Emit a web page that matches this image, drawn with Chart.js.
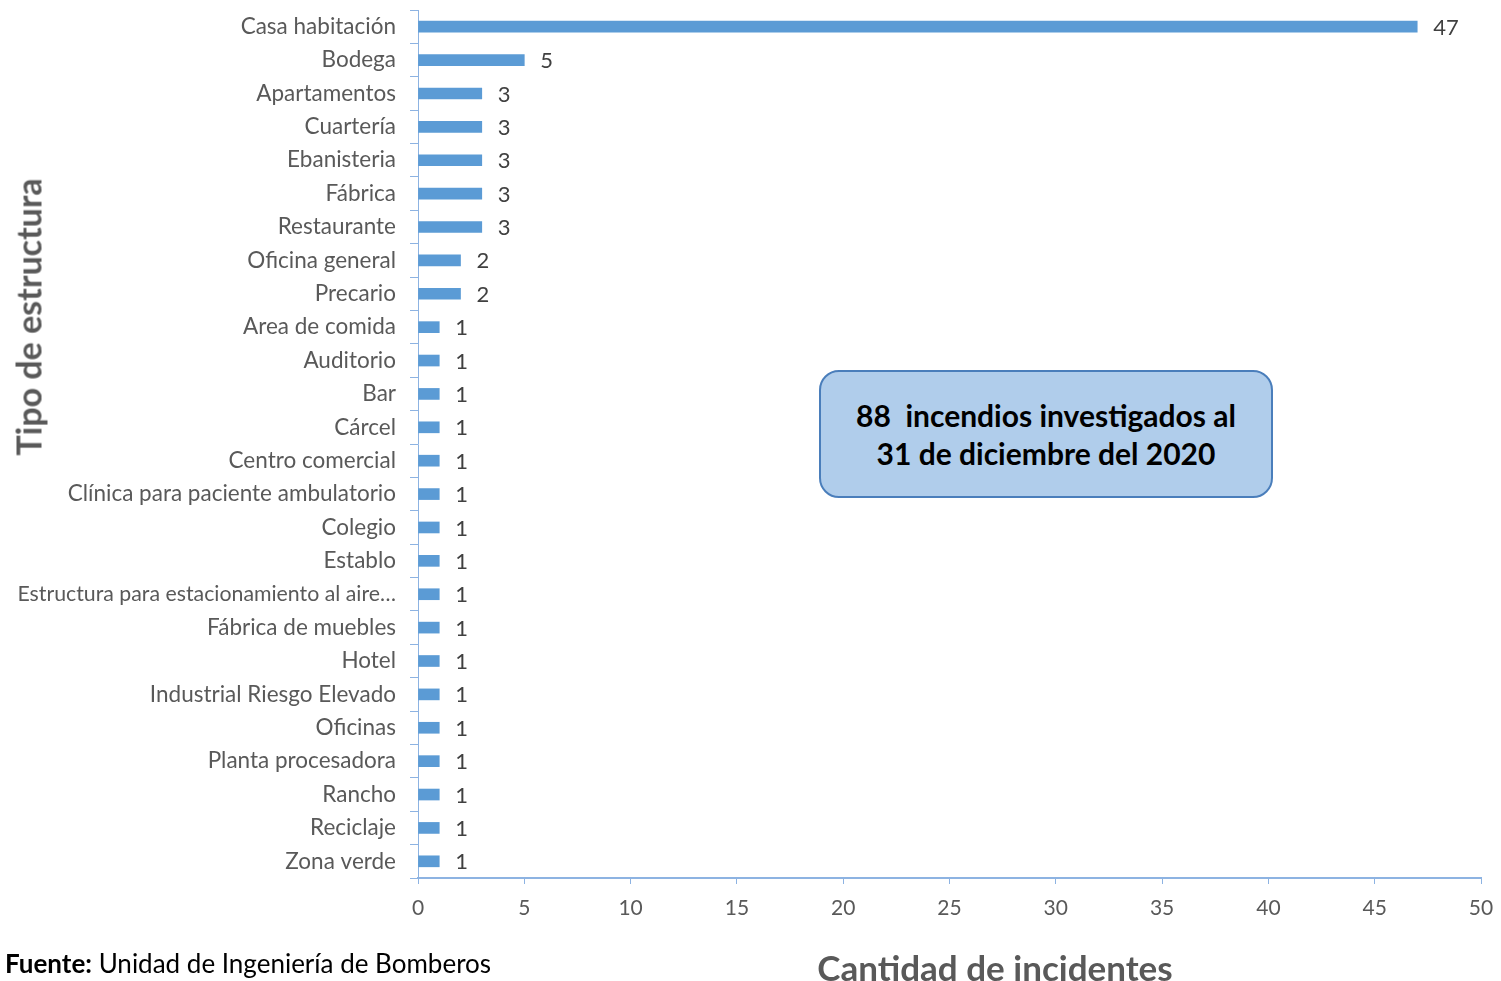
<!DOCTYPE html>
<html>
<head>
<meta charset="utf-8">
<script src="https://cdn.jsdelivr.net/npm/chart.js@4/dist/chart.umd.min.js"></script>
<style>
  body { margin: 0; background: #fff; overflow: hidden; }
  #wrap { position: relative; width: 1501px; height: 981px; }
  #chart { position: absolute; left: 0; top: 0; }
  .txt { position: absolute; font-family: Lato, "Open Sans", sans-serif; white-space: nowrap; }
  #ytitle { left: 28px; top: 317px; transform: translate(-50%, -50%) rotate(-90deg); font-size: 34px; font-weight: bold; color: #595959; }
  #xtitle { left: 995px; top: 967px; transform: translate(-50%, -50%); font-size: 35px; font-weight: bold; color: #595959; }
  #fuente { left: 5px; top: 963px; transform: translateY(-50%); font-size: 26px; color: #000; }
  #nota { left: 819px; top: 370px; width: 450px; height: 124px; border: 2px solid #4a7ebb; border-radius: 20px;
    background: #b0cdeb; display: flex; align-items: center; justify-content: center; text-align: center;
    font-size: 30px; font-weight: bold; color: #000; line-height: 38px; }
</style>
</head>
<body>
<div id="wrap">
  <canvas id="chart" width="1501" height="981"></canvas>
  <div class="txt" id="ytitle">Tipo de estructura</div>
  <div class="txt" id="xtitle">Cantidad de incidentes</div>
  <div class="txt" id="fuente"><b>Fuente:</b> Unidad de Ingeniería de Bomberos</div>
  <div class="txt" id="nota">88&nbsp; incendios investigados al<br>31 de diciembre del 2020</div>
</div>
<script>
let categorias = [
  'Casa habitación', 'Bodega', 'Apartamentos', 'Cuartería', 'Ebanisteria', 'Fábrica',
  'Restaurante', 'Oficina general', 'Precario', 'Area de comida', 'Auditorio', 'Bar',
  'Cárcel', 'Centro comercial', 'Clínica para paciente ambulatorio', 'Colegio', 'Establo',
  'Estructura para estacionamiento al aire…', 'Fábrica de muebles', 'Hotel',
  'Industrial Riesgo Elevado', 'Oficinas', 'Planta procesadora', 'Rancho', 'Reciclaje', 'Zona verde'
];
let incidentes = [47, 5, 3, 3, 3, 3, 3, 2, 2, 1, 1, 1, 1, 1, 1, 1, 1, 1, 1, 1, 1, 1, 1, 1, 1, 1];
let ejeX = { min: 0, max: 50, paso: 5 };

let azulEje = '#8db3e2';
let gris = '#595959';
let fuente = 'Lato, "Open Sans", sans-serif';

// etiquetas de valor al final de cada barra
let etiquetas = {
  id: 'etiquetas',
  afterDatasetsDraw(chart) {
    let ctx = chart.ctx;
    let meta = chart.getDatasetMeta(0);
    ctx.save();
    ctx.font = '22px ' + fuente;
    ctx.fillStyle = '#404040';
    ctx.textAlign = 'left';
    ctx.textBaseline = 'middle';
    meta.data.forEach((bar, i) => {
      ctx.fillText(String(incidentes[i]), bar.x + 16, bar.y + 1);
    });
    ctx.restore();
  }
};

let ctx = document.getElementById('chart').getContext('2d');
let grafico = new Chart(ctx, {
  type: 'bar',
  data: {
    labels: categorias,
    datasets: [{
      data: incidentes,
      backgroundColor: '#5b9bd5',
      barThickness: 11
    }]
  },
  options: {
    indexAxis: 'y',
    responsive: false,
    animation: false,
    layout: { padding: { top: 10, right: 20, bottom: 0, left: 0 } },
    plugins: {
      legend: { display: false },
      tooltip: { enabled: false }
    },
    scales: {
      x: {
        min: ejeX.min,
        max: ejeX.max,
        ticks: {
          stepSize: ejeX.paso,
          color: gris,
          padding: 12,
          font: { family: fuente, size: 21 }
        },
        grid: { drawOnChartArea: false, color: azulEje, tickLength: 6, lineWidth: 1 },
        border: { color: azulEje, width: 2 },
        afterFit: scale => {
          scale.height = 103;
          scale.paddingLeft = 0;
          scale.paddingRight = 0;
        }
      },
      y: {
        ticks: {
          color: gris,
          padding: 14,
          autoSkip: false,
          // la etiqueta larga va un poco mas chica para que quepa
          font: c => ({ family: fuente, size: categorias[c.index]?.length > 35 ? 21.3 : 22.5 })
        },
        grid: { drawOnChartArea: false, color: azulEje, tickLength: 8, offset: true },
        border: { color: azulEje, width: 1 },
        afterFit: scale => {
          scale.width = 418;
          scale.paddingTop = 0;
          scale.paddingBottom = 0;
        }
      }
    }
  },
  plugins: [etiquetas]
});
</script>
</body>
</html>
